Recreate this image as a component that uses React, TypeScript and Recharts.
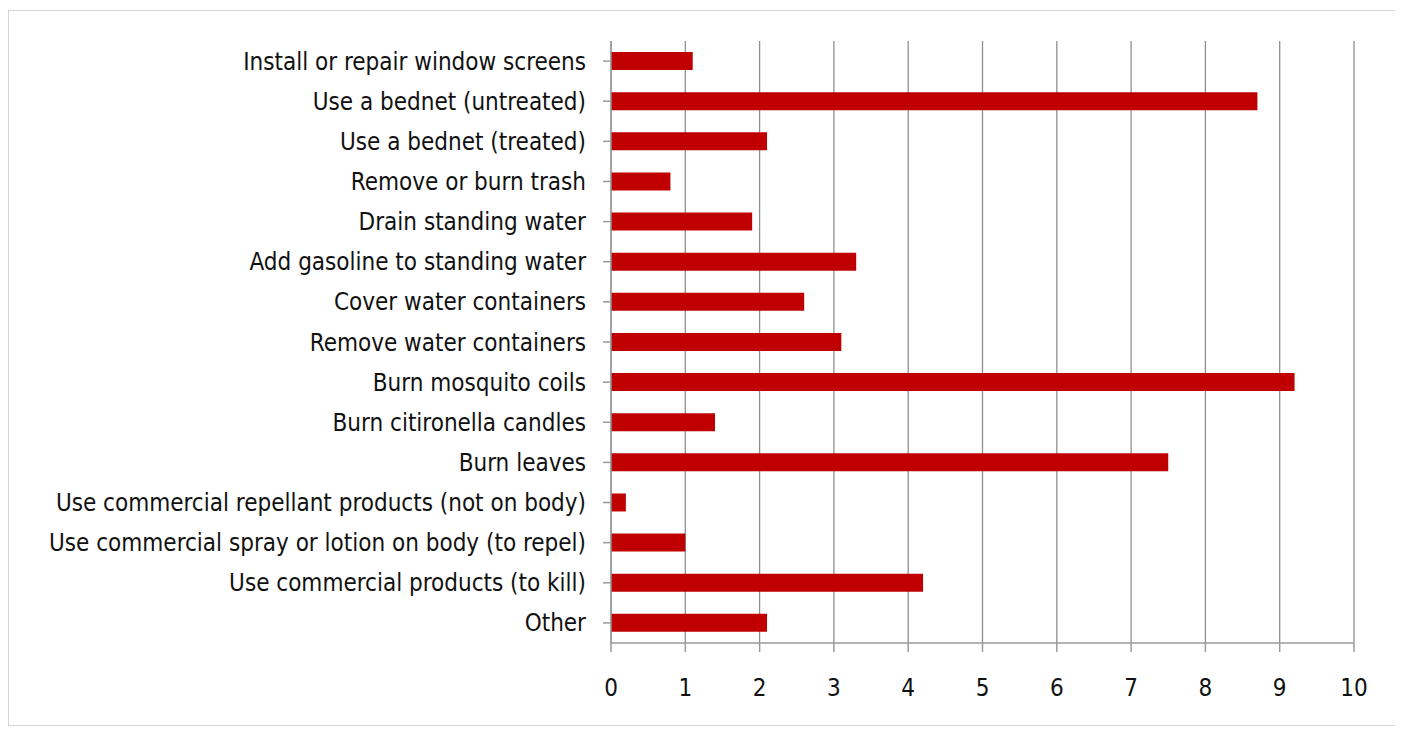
import React from 'react';
import { BarChart, Bar, XAxis, YAxis, CartesianGrid } from 'recharts';

const categories = [
  'Install or repair window  screens',
  'Use a bednet (untreated)',
  'Use a bednet (treated)',
  'Remove or burn trash',
  'Drain standing water',
  'Add gasoline to standing water',
  'Cover water containers',
  'Remove water containers',
  'Burn mosquito coils',
  'Burn citironella candles',
  'Burn leaves',
  'Use commercial repellant products (not on body)',
  'Use commercial spray or lotion on body  (to repel)',
  'Use commercial products (to kill)',
  'Other',
];

const values = [1.1, 8.7, 2.1, 0.8, 1.9, 3.3, 2.6, 3.1, 9.2, 1.4, 7.5, 0.2, 1.0, 4.2, 2.1];

const xTicks = [0, 1, 2, 3, 4, 5, 6, 7, 8, 9, 10];

const data = categories.map((name, i) => ({ name, value: values[i] }));

const FONT = '"Liberation Sans Narrow", "DejaVu Sans Condensed", "Liberation Sans", sans-serif';

const App: React.FC = () => {
  return (
    <div
      style={{
        width: 1390,
        height: 714,
        marginTop: 2,
        border: '1px solid #d4d4d4',
        background: '#fff',
      }}
    >
      <BarChart
        width={1390}
        height={714}
        layout="vertical"
        data={data}
        margin={{ top: 30, right: 45, left: 0, bottom: 22 }}
      >
        <CartesianGrid horizontal={false} stroke="#8f8f8f" strokeWidth={1.3} />
        <XAxis
          type="number"
          domain={[0, 10]}
          ticks={xTicks}
          interval={0}
          height={60}
          stroke="#9a9a9a"
          strokeWidth={1.5}
          tickSize={9}
          tickMargin={27}
          tick={{ fill: '#111', fontSize: 24, fontFamily: FONT }}
        />
        <YAxis
          type="category"
          dataKey="name"
          width={602}
          interval={0}
          stroke="#9a9a9a"
          strokeWidth={1.5}
          tickSize={8}
          tickMargin={17}
          tick={{ fill: '#111', fontSize: 24, fontFamily: FONT, style: { whiteSpace: 'pre' } }}
        />
        <Bar dataKey="value" fill="#c00000" barSize={18} isAnimationActive={false} />
      </BarChart>
    </div>
  );
};

export default App;
